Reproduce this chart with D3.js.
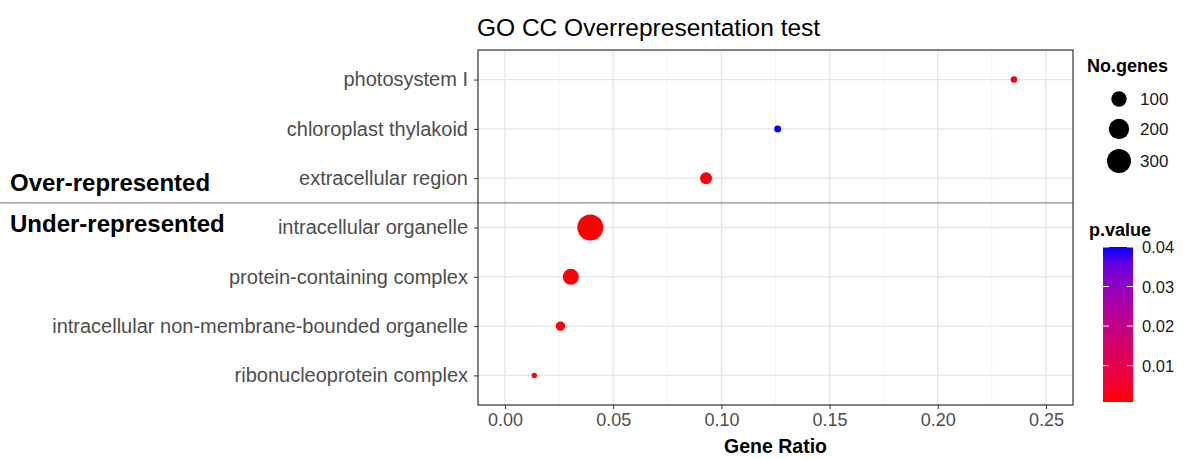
<!DOCTYPE html>
<html>
<head>
<meta charset="utf-8">
<script src="https://cdn.jsdelivr.net/npm/d3@7"></script>
<style>
  body { margin: 0; background: #fff; }
  text { font-family: "Liberation Sans", Arial, sans-serif; }
</style>
</head>
<body>
<div id="chart"></div>
<script>
// GO CC terms, top to bottom
const terms = ["photosystem I", "chloroplast thylakoid", "extracellular region",
  "intracellular organelle", "protein-containing complex",
  "intracellular non-membrane-bounded organelle", "ribonucleoprotein complex"];
const geneRatio = [0.2352, 0.126, 0.0929, 0.0394, 0.0304, 0.0256, 0.0135];
const noGenes = [20, 21, 54, 364, 110, 32, 19];
const pValue = [0.0009, 0.04, 0.0012, 0.0008, 0.0010, 0.0011, 0.0009];
const groupLabels = ["Over-represented", "Under-represented"];
const xTicks = [0, 0.05, 0.10, 0.15, 0.20, 0.25];
const xMinor = [0.025, 0.075, 0.125, 0.175, 0.225];
const sizeBreaks = [100, 200, 300];
const pBreaks = [0.01, 0.02, 0.03, 0.04];

const W = 1185, H = 459;
const panel = { left: 478, right: 1073, top: 50, bottom: 405 };

const svg = d3.select("#chart").append("svg")
  .attr("width", W).attr("height", H);

const data = terms.map((t, i) => ({
  term: t, ratio: geneRatio[i], n: noGenes[i], p: pValue[i]
}));

// scales
const x = d3.scaleLinear().domain([-0.0125, 0.2625]).range([panel.left, panel.right]);
const y = d3.scalePoint().domain(terms).range([panel.top, panel.bottom]).padding(0.6);

const nMin = d3.min(noGenes), nMax = d3.max(noGenes);
const sizeSqrt = d3.scaleSqrt().domain([0, nMax - nMin]).range([0, 10.3]);
const radius = n => 2.7 + sizeSqrt(n - nMin);

const pMin = 0.0008, pMax = 0.04;
const color = d3.scaleLinear().domain([pMin, pMax]).range(["#ff0000", "#0000ff"])
  .interpolate(d3.interpolateLab);

// title
svg.append("text")
  .attr("x", 477).attr("y", 36)
  .style("font-size", "24.5px").attr("fill", "#000")
  .text("GO CC Overrepresentation test");

// grid
const grid = svg.append("g");
grid.selectAll(".minor").data(xMinor).join("line")
  .attr("x1", d => x(d)).attr("x2", d => x(d))
  .attr("y1", panel.top).attr("y2", panel.bottom)
  .attr("stroke", "#f3f3f3").attr("stroke-width", 1);
grid.selectAll(".major").data(xTicks).join("line")
  .attr("x1", d => x(d)).attr("x2", d => x(d))
  .attr("y1", panel.top).attr("y2", panel.bottom)
  .attr("stroke", "#e6e6e6").attr("stroke-width", 1.4);
grid.selectAll(".hline").data(terms).join("line")
  .attr("x1", panel.left).attr("x2", panel.right)
  .attr("y1", d => y(d)).attr("y2", d => y(d))
  .attr("stroke", "#e6e6e6").attr("stroke-width", 1.4);

// separator between over / under represented
const sepY = (y(terms[2]) + y(terms[3])) / 2;
svg.append("line")
  .attr("x1", 0).attr("x2", panel.right)
  .attr("y1", sepY).attr("y2", sepY)
  .attr("stroke", "#8c8c8c").attr("stroke-width", 1.2);

// points
svg.append("g").selectAll("circle")
  .data(data)
  .join("circle")
  .attr("cx", d => x(d.ratio))
  .attr("cy", d => y(d.term))
  .attr("r", d => radius(d.n))
  .attr("fill", d => color(d.p));

// panel border
svg.append("rect")
  .attr("x", panel.left).attr("y", panel.top)
  .attr("width", panel.right - panel.left).attr("height", panel.bottom - panel.top)
  .attr("fill", "none").attr("stroke", "#333").attr("stroke-width", 1.2);

// x axis
const xAxis = svg.append("g")
  .attr("transform", `translate(0,${panel.bottom})`)
  .call(d3.axisBottom(x).tickValues(xTicks).tickFormat(d3.format(".2f")).tickSize(4).tickPadding(4));
xAxis.select(".domain").remove();
xAxis.selectAll("line").attr("stroke", "#333");
xAxis.selectAll("text").style("font-size", "18px").attr("fill", "#4d4d4d")
  .style("font-family", "Liberation Sans, Arial, sans-serif");

svg.append("text")
  .attr("x", (panel.left + panel.right) / 2).attr("y", 453)
  .attr("text-anchor", "middle")
  .style("font-size", "19.5px").style("font-weight", "bold")
  .text("Gene Ratio");

// y axis
const yAxis = svg.append("g")
  .attr("transform", `translate(${panel.left},0)`)
  .call(d3.axisLeft(y).tickSize(4).tickPadding(6));
yAxis.select(".domain").remove();
yAxis.selectAll("line").attr("stroke", "#333");
yAxis.selectAll("text").style("font-size", "20px").attr("fill", "#4d4d4d")
  .style("font-family", "Liberation Sans, Arial, sans-serif");

// group labels
svg.append("text").attr("x", 10).attr("y", 191)
  .style("font-size", "24px").style("font-weight", "bold")
  .text(groupLabels[0]);
svg.append("text").attr("x", 10).attr("y", 232)
  .style("font-size", "24px").style("font-weight", "bold")
  .text(groupLabels[1]);

// size legend
const lg = svg.append("g");
lg.append("text").attr("x", 1087).attr("y", 72)
  .style("font-size", "18px").style("font-weight", "bold")
  .text("No.genes");
const sizeY = [99, 129, 161];
lg.selectAll("circle").data(sizeBreaks).join("circle")
  .attr("cx", 1119).attr("cy", (d, i) => sizeY[i])
  .attr("r", d => radius(d))
  .attr("fill", "#000");
lg.selectAll(".lbl").data(sizeBreaks).join("text")
  .attr("x", 1140).attr("y", (d, i) => sizeY[i] + 6)
  .style("font-size", "17px").attr("fill", "#1a1a1a")
  .text(d => d);

// colour bar legend
const cb = { x: 1103, w: 30, top: 247, bottom: 402 };
const cy = d3.scaleLinear().domain([pMin, pMax]).range([cb.bottom, cb.top]);
const defs = svg.append("defs");
const grad = defs.append("linearGradient").attr("id", "pgrad")
  .attr("x1", 0).attr("y1", 1).attr("x2", 0).attr("y2", 0);
grad.selectAll("stop").data(d3.range(0, 1.0001, 0.1)).join("stop")
  .attr("offset", d => d)
  .attr("stop-color", d => color(pMin + d * (pMax - pMin)));

lg.append("text").attr("x", 1089).attr("y", 236)
  .style("font-size", "18px").style("font-weight", "bold")
  .text("p.value");
lg.append("rect")
  .attr("x", cb.x).attr("y", cb.top)
  .attr("width", cb.w).attr("height", cb.bottom - cb.top)
  .attr("fill", "url(#pgrad)");
lg.selectAll(".tk").data(pBreaks).join("g")
  .each(function (d) {
    const g = d3.select(this);
    g.append("line").attr("x1", cb.x).attr("x2", cb.x + 6)
      .attr("y1", cy(d)).attr("y2", cy(d)).attr("stroke", "#fff").attr("stroke-width", 1);
    g.append("line").attr("x1", cb.x + cb.w - 6).attr("x2", cb.x + cb.w)
      .attr("y1", cy(d)).attr("y2", cy(d)).attr("stroke", "#fff").attr("stroke-width", 1);
  });
lg.selectAll(".plbl").data(pBreaks).join("text")
  .attr("x", 1142).attr("y", d => cy(d) + 6)
  .style("font-size", "16.5px").attr("fill", "#1a1a1a")
  .text(d => d.toFixed(2));
</script>
</body>
</html>
